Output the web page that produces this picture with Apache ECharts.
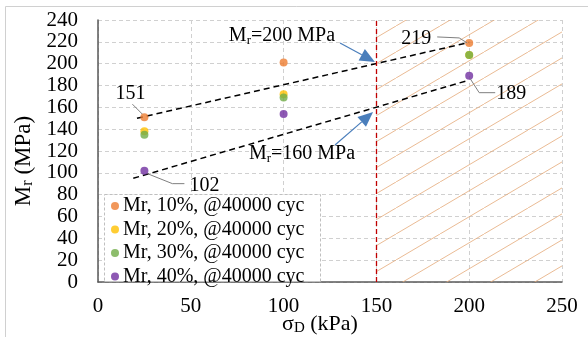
<!DOCTYPE html>
<html><head><meta charset="utf-8">
<script src="https://cdn.jsdelivr.net/npm/echarts@6/dist/echarts.min.js"></script>
<style>html,body{margin:0;padding:0;background:#fff}#c{width:588px;height:337px}</style>
</head><body><div id="c"></div>
<script>
// ---- data ----
const xs = [25, 100, 200];
const seriesNames = ['Mr, 10%, @40000 cyc', 'Mr, 20%, @40000 cyc', 'Mr, 30%, @40000 cyc', 'Mr, 40%, @40000 cyc'];
const mr10 = [151, 201, 219];
const mr20 = [138, 172, 208];
const mr30 = [135, 169, 208];
const mr40 = [102, 154, 189];
const trend200 = [[21, 150], [200, 219.5]];
const trend160 = [[19, 95], [200, 185]];
const arrow200 = [[130.4, 219], [149.2, 201.5]];
const arrow160 = [[127.7, 125.5], [148.2, 155.7]];
const limitX = 150;
const xTicks = [0, 50, 100, 150, 200, 250];
const yTicks = [0, 20, 40, 60, 80, 100, 120, 140, 160, 180, 200, 220, 240];

const colors = ['#ED7D31', '#FFC000', '#70AD47', '#7030A0'];
const FONT = '"Liberation Serif", "DejaVu Serif", serif';

function hatch() {
  const c = document.createElement('canvas');
  c.width = 44; c.height = 26;
  const g = c.getContext('2d');
  g.strokeStyle = '#e4aa78';
  g.lineWidth = 0.8;
  for (const k of [-1, 0, 1]) {
    g.beginPath();
    g.moveTo(k * 44, 26);
    g.lineTo(44 + k * 44, 0);
    g.stroke();
  }
  return c;
}

const chart = echarts.init(document.getElementById('c'), null, { renderer: 'canvas' });
const allVals = [mr10, mr20, mr30, mr40];

const series = allVals.map((vals, i) => ({
  name: seriesNames[i],
  type: 'scatter',
  symbolSize: 8,
  z: 5,
  itemStyle: { color: colors[i] },
  data: xs.map((x, j) => [x, vals[j]])
}));

series.push({
  type: 'line', data: trend200, symbol: 'none', z: 3, silent: true,
  lineStyle: { color: '#000', width: 1.5, type: [6, 4] }
});
series.push({
  type: 'line', data: trend160, symbol: 'none', z: 3, silent: true,
  lineStyle: { color: '#000', width: 1.5, type: [6, 4] },
  markArea: {
    silent: true,
    itemStyle: { color: { image: hatch(), repeat: 'repeat' } },
    data: [[{ xAxis: limitX, yAxis: 0 }, { xAxis: 250, yAxis: 240 }]]
  },
  markLine: {
    silent: true, symbol: ['none', 'none'], label: { show: false },
    lineStyle: { color: '#C00000', width: 1.3, type: [5, 3] },
    data: [{ xAxis: limitX }]
  }
});

const nameRich = (fs) => ({ a: { fontFamily: FONT, fontSize: fs, color: '#000' }, s: { fontFamily: FONT, fontSize: Math.round(fs * 0.68), color: '#000', padding: [9, 0, 0, 0] } });

chart.setOption({
  animation: false,
  backgroundColor: '#fff',
  grid: { left: 98, right: 26, top: 20, bottom: 55, outerBoundsMode: 'none', containLabel: false },
  xAxis: {
    type: 'value', min: 0, max: 250, interval: 50,
    name: '{a|σ}{s|D}{a| (kPa)}', nameLocation: 'middle', nameGap: 30, nameMoveOverlap: false,
    nameTextStyle: { rich: nameRich(22), padding: [0, 20, 0, 0] },
    axisLine: { show: true, lineStyle: { color: '#595959', width: 1.5 } },
    axisTick: { show: false },
    axisLabel: { fontFamily: FONT, fontSize: 21, color: '#000', margin: 14 },
    splitLine: { show: true, lineStyle: { color: '#d0d0d0', type: [4, 3] } }
  },
  yAxis: {
    type: 'value', min: 0, max: 240, interval: 20,
    name: '{a|M}{s|r}{a| (MPa)}', nameLocation: 'middle', nameGap: 62, nameRotate: 90, nameMoveOverlap: false,
    nameTextStyle: { rich: nameRich(23), padding: [0, 20, 0, 0] },
    axisLine: { show: true, lineStyle: { color: '#595959', width: 1.5 } },
    axisTick: { show: false },
    axisLabel: { fontFamily: FONT, fontSize: 21, color: '#000', margin: 20 },
    splitLine: { show: true, lineStyle: { color: '#d0d0d0', type: [4, 3] } }
  },
  legend: {
    data: seriesNames,
    orient: 'vertical', left: 106, top: 195, z: 10,
    padding: [1, 4, 1, 5], itemGap: 3.5,
    itemWidth: 8, itemHeight: 8, icon: 'circle',
    textStyle: { fontFamily: FONT, fontSize: 20, color: '#000', lineHeight: 18, padding: [0, 0, 0, -1] }
  },
  series: series
});

function px(p) { return chart.convertToPixel({ gridIndex: 0 }, p); }

const p151 = px([xs[0], mr10[0]]);
const p219 = px([xs[2], mr10[2]]);
const p189 = px([xs[2], mr40[2]]);
const p102 = px([xs[0], mr40[0]]);
const t200 = px([99.1, 225.5]);
const t160 = px([109.9, 117.5]);

const txt = (x, y, s) => ({ type: 'text', x: x, y: y, z: 20, style: { text: s, fontFamily: FONT, fontSize: 20, fill: '#000', align: 'center', verticalAlign: 'middle' } });
const ln = (pts) => ({ type: 'polyline', z: 20, shape: { points: pts }, style: { stroke: '#7f7f7f', lineWidth: 1, fill: null } });
const richT = (x, y, rest) => ({
  type: 'text', x: x, y: y, z: 20,
  style: {
    text: '{a|M}{s|r}{a|' + rest + '}', align: 'center', verticalAlign: 'middle',
    rich: { a: { fontFamily: FONT, fontSize: 20, fill: '#000' }, s: { fontFamily: FONT, fontSize: 13, fill: '#000', padding: [9, 0, 0, 0] } }
  }
});
function arrow(a) {
  const s = px(a[0]), e = px(a[1]);
  const dx = e[0] - s[0], dy = e[1] - s[1];
  const L = Math.hypot(dx, dy), ux = dx / L, uy = dy / L;
  const hl = 15, hw = 6.5;
  const bx = e[0] - ux * hl, by = e[1] - uy * hl;
  return [
    { type: 'line', z: 21, shape: { x1: s[0], y1: s[1], x2: bx, y2: by }, style: { stroke: '#4A7EBB', lineWidth: 1.2 } },
    { type: 'polygon', z: 21, shape: { points: [[e[0], e[1]], [bx - uy * hw, by + ux * hw], [bx + uy * hw, by - ux * hw]] }, style: { fill: '#4A7EBB' } }
  ];
}

chart.setOption({
  graphic: [
    { type: 'line', z: 0, shape: { x1: 5.5, y1: 6.5, x2: 588, y2: 6.5 }, style: { stroke: '#d0d0d0', lineWidth: 1 } },
    { type: 'line', z: 0, shape: { x1: 5.5, y1: 6.5, x2: 5.5, y2: 337 }, style: { stroke: '#d0d0d0', lineWidth: 1 } },
    { type: 'rect', z: 9, shape: { x: 104.5, y: 194.5, width: 216, height: 87 }, style: { fill: '#fff', stroke: '#bfbfbf', lineWidth: 1, lineDash: [3, 2] } },
    txt(p151[0] - 14, p151[1] - 23, String(mr10[0])),
    ln([[p151[0] - 12, p151[1] - 13], [p151[0] - 2, p151[1] - 3]]),
    txt(p219[0] - 53, p219[1] - 4, String(mr10[2])),
    ln([[p219[0] - 32, p219[1] - 6], [p219[0] - 10, p219[1] - 5], [p219[0] - 2, p219[1]]]),
    txt(p189[0] + 42, p189[1] + 18, String(mr40[2])),
    ln([[p189[0] + 1, p189[1] + 3], [p189[0] + 10, p189[1] + 17], [p189[0] + 26, p189[1] + 17]]),
    txt(p102[0] + 60, p102[1] + 15, String(mr40[0])),
    ln([[p102[0] + 3, p102[1] + 3], [p102[0] + 28, p102[1] + 13], [p102[0] + 40, p102[1] + 13]]),
    richT(t200[0], t200[1], '=200 MPa'),
    richT(t160[0], t160[1], '=160 MPa'),
    ...arrow(arrow200),
    ...arrow(arrow160)
  ]
});
</script></body></html>
